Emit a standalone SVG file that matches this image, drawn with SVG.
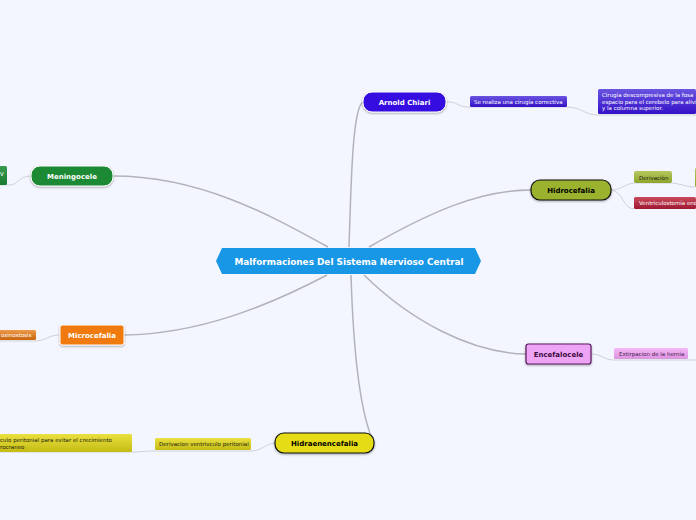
<svg xmlns="http://www.w3.org/2000/svg" width="696" height="520" viewBox="0 0 696 520">
<defs>
<linearGradient id="gv" x1="0" y1="0" x2="0" y2="1"><stop offset="0" stop-color="#6a55e0"/><stop offset="1" stop-color="#3410c8"/></linearGradient>
<linearGradient id="gg" x1="0" y1="0" x2="0" y2="1"><stop offset="0" stop-color="#b4c860"/><stop offset="1" stop-color="#8ea52a"/></linearGradient>
<linearGradient id="gr" x1="0" y1="0" x2="0" y2="1"><stop offset="0" stop-color="#c84a5c"/><stop offset="1" stop-color="#a01830"/></linearGradient>
<linearGradient id="gd" x1="0" y1="0" x2="0" y2="1"><stop offset="0" stop-color="#3a9a50"/><stop offset="1" stop-color="#1a7a30"/></linearGradient>
<linearGradient id="go" x1="0" y1="0" x2="0" y2="1"><stop offset="0" stop-color="#ee9a4a"/><stop offset="1" stop-color="#c8640c"/></linearGradient>
<linearGradient id="gy" x1="0" y1="0" x2="0" y2="1"><stop offset="0" stop-color="#eae040"/><stop offset="1" stop-color="#c4bc14"/></linearGradient>
<linearGradient id="gp" x1="0" y1="0" x2="0" y2="1"><stop offset="0" stop-color="#f4b8f6"/><stop offset="1" stop-color="#dc94e0"/></linearGradient>
<filter id="sh" x="-10%" y="-20%" width="120%" height="150%"><feDropShadow dx="0" dy="1" stdDeviation="0.8" flood-color="#000" flood-opacity="0.35"/></filter>
</defs>
<style>
text{font-family:"DejaVu Sans",Verdana,sans-serif}
.c1{fill:none;stroke:#b2b3b8;stroke-width:1.5}
.c2{fill:none;stroke:#cfd1d8;stroke-width:1}
.m{font-size:7px;font-weight:700;text-anchor:middle}
.s{font-size:5.5px}
.w{fill:#fff}
.d{fill:#1c1c10}
</style>
<rect width="696" height="520" fill="#f3f6fe"/>
<g id="connectors">
<path class="c1" d="M349 247C351 190 352 108 363 102"/>
<path class="c1" d="M369 247C430 212 480 190 531 190"/>
<path class="c1" d="M328 247C270 215 200 176 113 176"/>
<path class="c1" d="M327 275C270 305 200 334 124 335"/>
<path class="c1" d="M364 275C410 320 470 353 526 354"/>
<path class="c1" d="M351 275C353 340 358 410 374 443"/>
<path class="c2" d="M446 102C458 101 458 108 470 107L566 107C582 107 584 115 598 115L696 115"/>
<path class="c2" d="M611 190C622 190 624 184 634 183L672 183C682 184 686 187 695 187"/>
<path class="c2" d="M611 190C624 192 622 208 634 209"/>
<path class="c2" d="M31 176C18 176 18 186 8 185L0 185"/>
<path class="c2" d="M60 335C48 335 48 340 36 341L0 341"/>
<path class="c2" d="M275 443C264 444 262 451 251 451L155 451C144 451 142 452 132 452L0 452"/>
<path class="c2" d="M591 354C602 354 604 360 614 360L688 360L696 360"/>
</g>
<g id="central"><polygon points="222,248 475,248 481,261 475,274 222,274 216,261" fill="#1897e6"/><text x="349" y="264.500" class="m w" style="font-size:8.9px">Malformaciones Del Sistema Nervioso Central</text></g>
<g id="arnold"><rect x="363" y="92" width="83" height="20" rx="9" fill="#3410e0" stroke="#fff" filter="url(#sh)"/><text x="404.500" y="104.500" class="m w">Arnold Chiari</text></g>
<g id="arnold-1"><rect x="470" y="96" width="97" height="11" rx="1.500" fill="url(#gv)"/><text x="474" y="103.500" class="s w">Se realiza una cirugía correctiva</text></g>
<g id="arnold-2"><rect x="598" y="89" width="98" height="25" rx="1.500" fill="url(#gv)"/><text class="s w"><tspan x="602" y="97">Cirugía descompresiva de la fosa</tspan><tspan x="602" y="103.500">espacio para el cerebelo para alivi</tspan><tspan x="602" y="110">y la columna superior.</tspan></text></g>
<g id="hidrocefalia"><rect x="531" y="180" width="80" height="20" rx="9" fill="#9bb22e" stroke="#111" stroke-width="1.200" filter="url(#sh)"/><text x="571" y="192.500" class="m" style="fill:#000">Hidrocefalia</text></g>
<g id="derivacion"><rect x="634" y="171" width="38" height="12" rx="2" fill="url(#gg)"/><text x="639" y="180" class="s d">Derivación</text></g>
<g id="derivacion-2"><rect x="695" y="168" width="6" height="19" rx="1.500" fill="url(#gg)"/></g>
<g id="ventriculostomia"><rect x="634" y="197" width="62" height="12" rx="1.500" fill="url(#gr)"/><text x="639" y="205" class="s w">Ventriculostomía end</text></g>
<g id="meningocele"><rect x="31" y="166" width="82" height="20" rx="9" fill="#1a8a36" stroke="#fff" filter="url(#sh)"/><text x="72" y="178.500" class="m w">Meningocele</text></g>
<g id="meningocele-1"><rect x="-6" y="166" width="13" height="19" rx="1.500" fill="url(#gd)"/><text x="0" y="176" class="s w">V</text></g>
<g id="microcefalia"><rect x="60" y="325" width="64" height="20" rx="2.500" fill="#f07a0a" stroke="#fff" filter="url(#sh)"/><text x="92" y="337.500" class="m w">Microcefalia</text></g>
<g id="microcefalia-1"><rect x="-6" y="330" width="42" height="10" rx="1.500" fill="url(#go)"/><text x="1" y="337" class="s w">osinostosis</text></g>
<g id="hidraenencefalia"><rect x="275" y="433" width="99" height="20" rx="9" fill="#e6dc18" stroke="#111" stroke-width="1.200" filter="url(#sh)"/><text x="324.500" y="445.500" class="m" style="fill:#000">Hidraenencefalia</text></g>
<g id="hidra-1"><rect x="155" y="438" width="96" height="12" rx="1.500" fill="url(#gy)"/><text x="159" y="446" class="s d">Derivacion ventrivculo peritonial</text></g>
<g id="hidra-2"><rect x="-10" y="434" width="142" height="18" rx="1.500" fill="url(#gy)"/><text class="s d"><tspan x="0" y="442">culo peritonial para evitar el crecimiento</tspan><tspan x="0" y="449">rocraneo</tspan></text></g>
<g id="encefalocele"><rect x="526" y="344" width="65" height="20" rx="2.500" fill="#eea4f4" stroke="#5a1a5e" stroke-width="1.200" filter="url(#sh)"/><text x="558.500" y="356.500" class="m" style="fill:#3a0a3e">Encefalocele</text></g>
<g id="encefalocele-1"><rect x="614" y="348" width="74" height="11" rx="1.500" fill="url(#gp)"/><text x="619" y="356" class="s" style="fill:#4a1a50">Extirpacion de la hernia</text></g>
</svg>
